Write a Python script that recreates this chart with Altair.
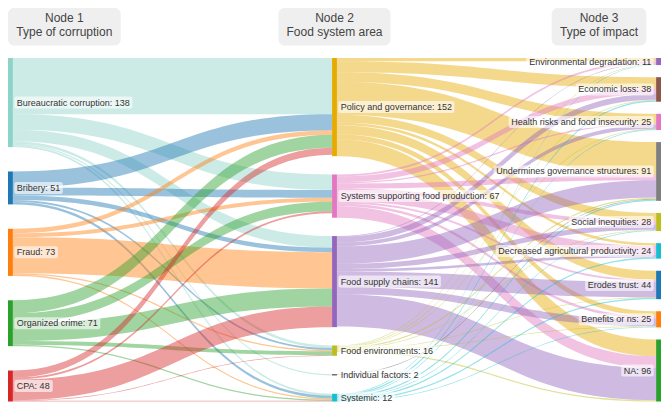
import altair as alt
import pandas as pd
import numpy as np

# ---------------- data ----------------
headers_top = ["Node 1", "Node 2", "Node 3"]
headers_bottom = ["Type of corruption", "Food system area", "Type of impact"]

col1_names = ["Bureaucratic corruption", "Bribery", "Fraud", "Organized crime", "CPA"]
col1_values = [138, 51, 73, 71, 48]
col1_colors = ["#8dd3c7", "#1f77b4", "#ff7f0e", "#2ca02c", "#d62728"]

col2_names = ["Policy and governance", "Systems supporting food production",
              "Food supply chains", "Food environments", "Individual factors", "Systemic"]
col2_values = [152, 67, 141, 16, 2, 12]
col2_colors = ["#e6ab02", "#e377c2", "#9467bd", "#bcbd22", "#555555", "#17becf"]

col3_names = ["Environmental degradation", "Economic loss", "Health risks and food insecurity",
              "Undermines governance structures", "Social inequities",
              "Decreased agricultural productivity", "Erodes trust", "Benefits or ns", "NA"]
col3_values = [11, 38, 25, 91, 28, 24, 44, 25, 96]
col3_colors = ["#9467bd", "#8c564b", "#e377c2", "#7f7f7f", "#bcbd22",
               "#17becf", "#1f77b4", "#ff7f0e", "#2ca02c"]

# flows: rows = Node 1 categories, columns = Node 2 categories
flows_12 = [
    [87, 24, 18, 4, 2, 3],
    [25, 12, 7, 3, 0, 4],
    [7, 6, 56, 2, 0, 2],
    [20, 15, 28, 6, 0, 2],
    [11, 3, 32, 1, 0, 1],
]
# flows: rows = Node 2 categories, columns = Node 3 categories
flows_23 = [
    [5, 17, 15, 51, 12, 4, 14, 8, 26],
    [3, 9, 2, 8, 6, 14, 3, 4, 18],
    [1, 9, 6, 27, 8, 4, 24, 11, 50],
    [1, 1, 1, 2, 1, 0, 1, 1, 2],
    [0, 0, 0, 1, 0, 0, 0, 0, 0],
    [1, 2, 1, 2, 1, 2, 2, 1, 0],
]

# ---------------- layout ----------------
PW, PH = 653, 394          # drawing size in px
W, H = 669, 410            # layout space
sx, sy = PW / W, PH / H
NW = 5
TOP, BOT = 52, 409.5
PAD = 12.6
FONT = "Liberation Sans, Arial, sans-serif"

CW = {" ": 278, ":": 278, "a": 556, "b": 556, "c": 500, "d": 556, "e": 556, "f": 278,
      "g": 556, "h": 556, "i": 222, "j": 222, "k": 500, "l": 222, "m": 833, "n": 556,
      "o": 556, "p": 556, "q": 556, "r": 333, "s": 500, "t": 278, "u": 556, "v": 500,
      "w": 722, "x": 500, "y": 500, "z": 500, "A": 667, "B": 667, "C": 722, "D": 722,
      "E": 667, "F": 611, "G": 778, "H": 722, "I": 278, "N": 722, "O": 778, "P": 667,
      "S": 667, "T": 611, "U": 722, "R": 722, "M": 833, "L": 556}


def text_width(s, size):
    return sum(CW.get(c, 556) for c in s) * size / 1000.0


cols = [(col1_names, col1_values, col1_colors),
        (col2_names, col2_values, col2_colors),
        (col3_names, col3_values, col3_colors)]
avail = BOT - TOP
k = min((avail - (len(v) - 1) * PAD) / sum(v) for _, v, _ in cols)

nodes = []
for ci, (names, vals, colors) in enumerate(cols):
    x0 = ci * (W - NW) / 2
    gap = (avail - sum(vals) * k) / (len(vals) - 1)
    y = TOP
    cn = []
    for n, v, c in zip(names, vals, colors):
        h = v * k
        cn.append(dict(name=n, value=v, color=c, x0=x0, x1=x0 + NW, y0=y, y1=y + h, col=ci))
        y += h + gap
    nodes.append(cn)
node_df = pd.DataFrame([nd for cn in nodes for nd in cn])

# links as bands between two cubic curves
t = np.linspace(0, 1, 41)
fx = 1.5 * t - 1.5 * t ** 2 + t ** 3
fy = 3 * t ** 2 - 2 * t ** 3
link_rows = []
lid = 0
for ci, flows in enumerate([flows_12, flows_23]):
    src, tgt = nodes[ci], nodes[ci + 1]
    toff = [0.0] * len(tgt)
    for si, row in enumerate(flows):
        soff = 0.0
        for ti, v in enumerate(row):
            if v <= 0:
                continue
            s, g = src[si], tgt[ti]
            h = v * k
            xa, xb = s["x1"], g["x0"]
            ya, yb = s["y0"] + soff, g["y0"] + toff[ti]
            for xx, yy in zip(xa + (xb - xa) * fx, ya + (yb - ya) * fy):
                link_rows.append(dict(link=lid, x=xx, yt=yy, yb=yy + h, color=s["color"]))
            soff += h
            toff[ti] += h
            lid += 1
link_df = pd.DataFrame(link_rows)

# node labels
lab_rows = []
for cn in nodes:
    for nd in cn:
        txt = f"{nd['name']}: {nd['value']}"
        tw = text_width(txt, 9) / sx
        cy = (nd["y0"] + nd["y1"]) / 2
        if nd["col"] < 2:
            tx = nd["x1"] + 4
            bx0, bx1, al = tx - 2.5 / sx, tx + tw + 2.5 / sx, "left"
        else:
            tx = nd["x0"] - 5
            bx0, bx1, al = tx - tw - 2.5 / sx, tx + 2.5 / sx, "right"
        lab_rows.append(dict(text=txt, tx=tx, ty=cy, bx0=bx0, bx1=bx1,
                             by0=cy - 6 / sy, by1=cy + 6 / sy, align=al))
lab_df = pd.DataFrame(lab_rows)

# headers
hb, ht = [], []
for ci in range(3):
    tw = max(text_width(headers_top[ci], 12), text_width(headers_bottom[ci], 12)) / sx
    bw = tw + 16 / sx
    if ci == 0:
        bx0 = 0
    elif ci == 1:
        bx0 = W / 2 - bw / 2
    else:
        bx0 = W - 15 - bw
    cx = bx0 + bw / 2
    hb.append(dict(x0=bx0, x1=bx0 + bw, y0=0, y1=39))
    ht.append(dict(text=headers_top[ci], x=cx, y=10.5))
    ht.append(dict(text=headers_bottom[ci], x=cx, y=24.5))
hb_df, ht_df = pd.DataFrame(hb), pd.DataFrame(ht)

# ---------------- chart ----------------
def X(f):
    return alt.X(f, type="quantitative", axis=None,
                 scale=alt.Scale(domain=[0, W], range=[0, PW], nice=False, zero=False))


def Y(f):
    return alt.Y(f, type="quantitative", axis=None,
                 scale=alt.Scale(domain=[0, H], range=[0, PH], nice=False, zero=False))


header_boxes = alt.Chart(hb_df).mark_rect(cornerRadius=6, color="#efefef").encode(
    x=X("x0"), x2="x1", y=Y("y0"), y2="y1")

links = alt.Chart(link_df).mark_area(opacity=0.45).encode(
    x=X("x"), y=Y("yt"), y2="yb", detail="link:N",
    color=alt.Color("color:N", scale=None))

node_rects = alt.Chart(node_df).mark_rect().encode(
    x=X("x0"), x2="x1", y=Y("y0"), y2="y1",
    color=alt.Color("color:N", scale=None))

label_boxes = alt.Chart(lab_df).mark_rect(color="white", opacity=0.6, cornerRadius=2).encode(
    x=X("bx0"), x2="bx1", y=Y("by0"), y2="by1")

labels_left = alt.Chart(lab_df[lab_df["align"] == "left"]).mark_text(
    align="left", baseline="middle", fontSize=9, font=FONT, color="#333333").encode(
    x=X("tx"), y=Y("ty"), text="text:N")

labels_right = alt.Chart(lab_df[lab_df["align"] == "right"]).mark_text(
    align="right", baseline="middle", fontSize=9, font=FONT, color="#333333").encode(
    x=X("tx"), y=Y("ty"), text="text:N")

header_text = alt.Chart(ht_df).mark_text(
    align="center", baseline="middle", fontSize=12, font=FONT, color="#444444").encode(
    x=X("x"), y=Y("y"), text="text:N")

chart = alt.layer(header_boxes, links, node_rects, label_boxes, labels_left,
                  labels_right, header_text).properties(
    width=PW, height=PH, padding=0,
    autosize=alt.AutoSizeParams(type="none")
).configure_view(stroke=None)

chart.save("out.html", embed_options={"renderer": "svg", "actions": False})
